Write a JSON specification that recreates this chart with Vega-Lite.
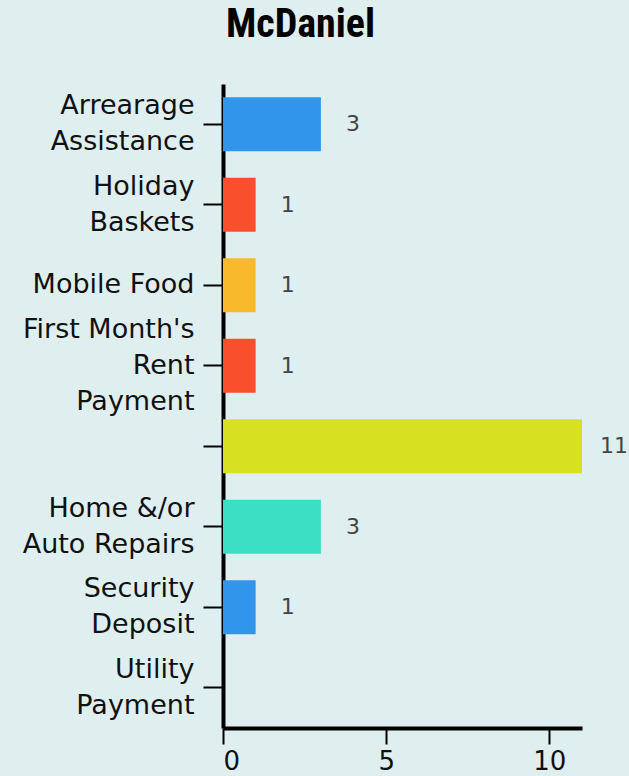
{
  "$schema": "https://vega.github.io/schema/vega-lite/v6.json",
  "autosize": {"type": "none"},
  "padding": {"left": 223, "top": 84, "right": 47, "bottom": 48},
  "width": 359,
  "height": 644,
  "background": "#dfeff0",
  "title": {
    "text": "McDaniel",
    "font": "Roboto Condensed, Liberation Sans Narrow, Roboto",
    "fontSize": 40,
    "fontWeight": "bold",
    "color": "#000000",
    "anchor": "middle",
    "dx": -102,
    "offset": 39
  },
  "data": {
    "values": [
      {"category": "Arrearage|Assistance", "count": 3, "color": "#3195ec"},
      {"category": "Holiday|Baskets", "count": 1, "color": "#f94f2c"},
      {"category": "Mobile Food", "count": 1, "color": "#f9b92c"},
      {"category": "First Month's|Rent|Payment", "count": 1, "color": "#f94f2c"},
      {"category": " ", "count": 11, "color": "#d7e021"},
      {"category": "Home &/or|Auto Repairs", "count": 3, "color": "#3ddfc4"},
      {"category": "Security|Deposit", "count": 1, "color": "#3195ec"},
      {"category": "Utility|Payment", "count": 0, "color": "#3195ec"}
    ]
  },
  "encoding": {
    "y": {
      "field": "category",
      "type": "nominal",
      "sort": null,
      "scale": {"paddingInner": 0.33, "paddingOuter": 0.165},
      "axis": {
        "title": null,
        "labelExpr": "split(datum.label, '|')",
        "labelOffset": {
          "condition": [
            {"test": "length(split(datum.value, '|')) == 3", "value": -36},
            {"test": "length(split(datum.value, '|')) == 2", "value": -18}
          ],
          "value": 0
        },
        "labelFont": "DejaVu Sans",
        "labelFontSize": 27,
        "labelColor": "#111111",
        "labelLineHeight": 36,
        "labelPadding": 9,
        "tickSize": 20,
        "tickWidth": 2,
        "tickColor": "#000000",
        "domainColor": "#000000",
        "domainWidth": 4,
        "labelLimit": 300
      }
    },
    "x": {
      "field": "count",
      "type": "quantitative",
      "scale": {"domain": [0, 11], "nice": false},
      "axis": {
        "title": null,
        "values": [0, 5, 10],
        "grid": false,
        "labelFlush": true,
        "labelFont": "DejaVu Sans",
        "labelFontSize": 26,
        "labelColor": "#111111",
        "labelPadding": 4,
        "tickSize": 16,
        "tickWidth": 2,
        "tickColor": "#000000",
        "domainColor": "#000000",
        "domainWidth": 4
      }
    }
  },
  "layer": [
    {
      "mark": {"type": "bar"},
      "encoding": {
        "color": {"field": "color", "type": "nominal", "scale": null, "legend": null}
      }
    },
    {
      "mark": {
        "type": "text",
        "align": "center",
        "baseline": "middle",
        "dx": 32,
        "font": "DejaVu Sans",
        "fontSize": 22,
        "color": "#444444"
      },
      "transform": [{"filter": "datum.count > 0"}],
      "encoding": {"text": {"field": "count", "type": "quantitative"}}
    }
  ],
  "config": {"view": {"stroke": null}}
}
